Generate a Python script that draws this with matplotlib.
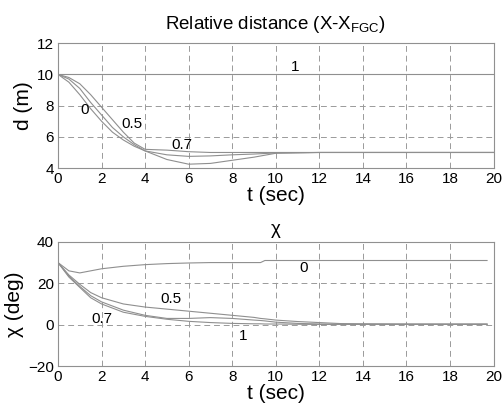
import matplotlib
matplotlib.use("Agg")
import matplotlib.pyplot as plt

plt.rcParams['font.family'] = ['Liberation Sans', 'DejaVu Sans']

# --- relative distance d (m) ---
t_d = [0, 0.5, 1, 1.5, 2, 2.5, 3, 3.5, 4, 5, 6, 7, 8, 9, 10, 12, 14, 16, 18, 20]
d_0 = [10, 9.5, 8.7, 7.8, 7.0, 6.3, 5.8, 5.4, 5.1, 4.55, 4.25, 4.3, 4.5, 4.7, 4.95, 5.0, 5.0, 5.0, 5.0, 5.0]
d_05 = [10, 9.8, 9.4, 8.7, 7.9, 7.1, 6.3, 5.6, 5.2, 5.15, 5.05, 5.0, 5.0, 5.0, 5.0, 5.0, 5.0, 5.0, 5.0, 5.0]
d_07 = [10, 9.7, 9.1, 8.2, 7.4, 6.6, 6.0, 5.5, 5.1, 4.85, 4.75, 4.78, 4.85, 4.9, 4.97, 5.0, 5.0, 5.0, 5.0, 5.0]
d_1 = [10, 10, 10, 10, 10, 10, 10, 10, 10, 10, 10, 10, 10, 10, 10, 10, 10, 10, 10, 10]

# --- chi (deg) ---
t_c = [0, 0.5, 1, 1.5, 2, 3, 4, 5, 6, 7, 8, 9, 9.3, 9.5, 10, 11, 12, 13, 14, 16, 18, 19.7]
chi_0 = [30, 26, 25, 26, 27, 28.2, 29, 29.5, 29.8, 30, 30, 30, 30, 31, 31, 31, 31, 31, 31, 31, 31, 31]
chi_05 = [30, 24, 19.5, 15.5, 13, 10, 8.5, 7.5, 6.5, 5.5, 4.5, 3.5, 3.0, 2.8, 2.2, 1.5, 1.0, 0.5, 0.4, 0.3, 0.3, 0.3]
chi_07 = [30, 23.5, 18.5, 14, 11, 7, 4.5, 3.0, 3.0, 3.4, 3.0, 2.2, 2.0, 1.8, 1.2, 0.6, 0.3, 0.2, 0.2, 0.2, 0.2, 0.2]
chi_1 = [30, 23, 18, 13, 10, 6, 4, 2.6, 1.6, 1.0, 0.6, 0.4, 0.4, 0.3, 0.3, 0.2, 0.1, 0.1, 0.1, 0.1, 0.1, 0.1]

xticks = list(range(0, 21, 2))
d_ticks = [4, 6, 8, 10, 12]
chi_ticks = [-20, 0, 20, 40]

line_col = '#8f8f8f'
grid_col = '#9a9a9a'

fig = plt.figure(figsize=(5.03, 4.07), dpi=100)
ax1 = fig.add_axes([0.1153, 0.587, 0.866, 0.307])
ax2 = fig.add_axes([0.1153, 0.1007, 0.866, 0.305])


def style(ax):
    for s in ax.spines.values():
        s.set_color('#909090')
        s.set_linewidth(0.8)
    ax.tick_params(direction='in', length=0, labelsize=11, pad=3)
    ax.grid(True, linestyle=(0, (6, 4)), color=grid_col, linewidth=0.7)
    ax.set_xlim(0, 20)
    ax.set_xticks(xticks)


for y in (d_0, d_05, d_07, d_1):
    ax1.plot(t_d, y, color=line_col, linewidth=0.8)
style(ax1)
ax1.set_ylim(4, 12)
ax1.set_yticks(d_ticks)
ax1.set_title('Relative distance (X-X$_{\\mathregular{FGC}}$)', fontsize=13.5, pad=10)
ax1.set_xlabel('t (sec)', fontsize=15, labelpad=0)
ax1.set_ylabel('d (m)', fontsize=15, labelpad=3)
ax1.text(1.2, 7.75, '0', fontsize=11, ha='center', va='center')
ax1.text(3.4, 6.8, '0.5', fontsize=11, ha='center', va='center')
ax1.text(5.7, 5.05, '0.7', fontsize=11, ha='center', va='bottom')
ax1.text(10.9, 10.5, '1', fontsize=11, ha='center', va='center')

for y in (chi_0, chi_05, chi_07, chi_1):
    ax2.plot(t_c, y, color=line_col, linewidth=0.8)
style(ax2)
ax2.set_ylim(-20, 40)
ax2.set_yticks(chi_ticks)
ax2.set_title('\u03c7', fontsize=13.5, pad=6)
ax2.set_xlabel('t (sec)', fontsize=15, labelpad=0)
ax2.set_ylabel('\u03c7 (deg)', fontsize=15, labelpad=3)
ax2.text(11.3, 27.5, '0', fontsize=11, ha='center', va='center')
ax2.text(5.2, 12.5, '0.5', fontsize=11, ha='center', va='center')
ax2.text(2.0, 2.5, '0.7', fontsize=11, ha='center', va='center')
ax2.text(8.5, -5.5, '1', fontsize=11, ha='center', va='center')

fig.savefig('out.png', dpi=100)
